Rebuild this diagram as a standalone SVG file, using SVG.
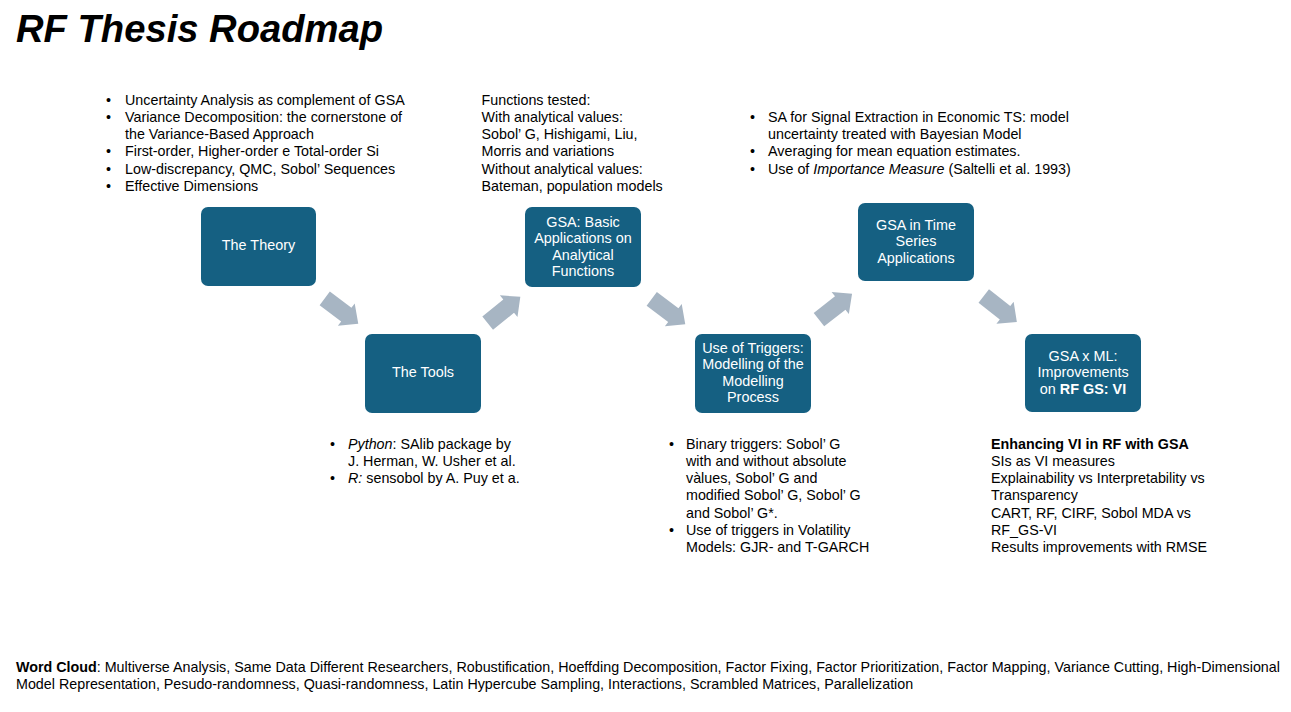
<svg xmlns="http://www.w3.org/2000/svg" width="1291" height="712" viewBox="0 0 1291 712">
<style>
.box{fill:#156082}
.bt{font-family:"Liberation Sans",Arial,sans-serif;font-size:14.4px;fill:#ffffff;text-anchor:middle}
.t{font-family:"Liberation Sans",Arial,sans-serif;font-size:14.3px;fill:#000000}
.title{font-family:"Liberation Sans",Arial,sans-serif;font-size:38.2px;font-weight:bold;font-style:italic;fill:#000000}
.arr{fill:#A7B5C3}
</style>
<defs>
<path id="blk" d="M-21,-8.5 L6,-8.5 L6,-14 L21,0 L6,14 L6,8.5 L-21,8.5 Z"/>
</defs>
<rect width="1291" height="712" fill="#ffffff"/>
<text class="title" x="16" y="42">RF Thesis Roadmap</text>

<g id="connectors">
<use href="#blk" class="arr" transform="translate(341.5,311) rotate(37)"/>
<use href="#blk" class="arr" transform="translate(504,310) rotate(-39)"/>
<use href="#blk" class="arr" transform="translate(668.5,311.5) rotate(37)"/>
<use href="#blk" class="arr" transform="translate(835.5,306.7) rotate(-38)"/>
<use href="#blk" class="arr" transform="translate(1000.3,309) rotate(38)"/>
</g>

<g id="theory">
<rect class="box" x="201" y="207" width="115" height="79" rx="7"/>
<text class="bt" x="258.5" y="250">The Theory</text>
</g>
<g id="tools">
<rect class="box" x="365" y="334" width="116" height="79" rx="7"/>
<text class="bt" x="423" y="377">The Tools</text>
</g>
<g id="gsa-basic">
<rect class="box" x="525" y="207" width="116" height="80" rx="7"/>
<text class="bt" x="583" y="227">GSA: Basic</text>
<text class="bt" x="583" y="243.3">Applications on</text>
<text class="bt" x="583" y="259.6">Analytical</text>
<text class="bt" x="583" y="275.9">Functions</text>
</g>
<g id="triggers">
<rect class="box" x="695" y="334" width="116" height="79" rx="7"/>
<text class="bt" x="753" y="353">Use of Triggers:</text>
<text class="bt" x="753" y="369.3">Modelling of the</text>
<text class="bt" x="753" y="385.6">Modelling</text>
<text class="bt" x="753" y="401.9">Process</text>
</g>
<g id="gsa-ts">
<rect class="box" x="858" y="203" width="116" height="78" rx="7"/>
<text class="bt" x="916" y="230">GSA in Time</text>
<text class="bt" x="916" y="246.3">Series</text>
<text class="bt" x="916" y="262.6">Applications</text>
</g>
<g id="gsa-ml">
<rect class="box" x="1025" y="334" width="116" height="78" rx="7"/>
<text class="bt" x="1083" y="361">GSA x ML:</text>
<text class="bt" x="1083" y="377.3">Improvements</text>
<text class="bt" x="1083" y="393.6">on <tspan font-weight="bold">RF GS: VI</tspan></text>
</g>

<g id="theory-notes" class="t">
<text x="106" y="104.5">•</text><text x="125" y="104.5">Uncertainty Analysis as complement of GSA</text>
<text x="106" y="121.8">•</text><text x="125" y="121.8">Variance Decomposition: the cornerstone of</text>
<text x="125" y="139.1">the Variance-Based Approach</text>
<text x="106" y="156.4">•</text><text x="125" y="156.4">First-order, Higher-order e Total-order Si</text>
<text x="106" y="173.7">•</text><text x="125" y="173.7">Low-discrepancy, QMC, Sobol’ Sequences</text>
<text x="106" y="191">•</text><text x="125" y="191">Effective Dimensions</text>
</g>

<g id="basic-notes" class="t">
<text x="481.5" y="104.5">Functions tested:</text>
<text x="481.5" y="121.8">With analytical values:</text>
<text x="481.5" y="139.1">Sobol’ G, Hishigami, Liu,</text>
<text x="481.5" y="156.4">Morris and variations</text>
<text x="481.5" y="173.7">Without analytical values:</text>
<text x="481.5" y="191">Bateman, population models</text>
</g>

<g id="ts-notes" class="t">
<text x="750" y="121.8">•</text><text x="768" y="121.8">SA for Signal Extraction in Economic TS: model</text>
<text x="768" y="139.1">uncertainty treated with Bayesian Model</text>
<text x="750" y="156.4">•</text><text x="768" y="156.4">Averaging for mean equation estimates.</text>
<text x="750" y="173.7">•</text><text x="768" y="173.7">Use of <tspan font-style="italic">Importance Measure</tspan> (Saltelli et al. 1993)</text>
</g>

<g id="tools-notes" class="t">
<text x="330" y="448.5">•</text><text x="348" y="448.5"><tspan font-style="italic">Python</tspan>: SAlib package by</text>
<text x="348" y="465.8">J. Herman, W. Usher et al.</text>
<text x="330" y="483.1">•</text><text x="348" y="483.1"><tspan font-style="italic">R:</tspan> sensobol by A. Puy et a.</text>
</g>

<g id="trigger-notes" class="t">
<text x="669" y="448.5">•</text><text x="686" y="448.5">Binary triggers: Sobol’ G</text>
<text x="686" y="465.8">with and without absolute</text>
<text x="686" y="483.1">vàlues, Sobol’ G and</text>
<text x="686" y="500.4">modified Sobol’ G, Sobol’ G</text>
<text x="686" y="517.7">and Sobol’ G*.</text>
<text x="669" y="535">•</text><text x="686" y="535">Use of triggers in Volatility</text>
<text x="686" y="552.3">Models: GJR- and T-GARCH</text>
</g>

<g id="ml-notes" class="t">
<text x="991" y="448.5" font-weight="bold">Enhancing VI in RF with GSA</text>
<text x="991" y="465.8">SIs as VI measures</text>
<text x="991" y="483.1">Explainability vs Interpretability vs</text>
<text x="991" y="500.4">Transparency</text>
<text x="991" y="517.7">CART, RF, CIRF, Sobol MDA vs</text>
<text x="991" y="535">RF_GS-VI</text>
<text x="991" y="552.3">Results improvements with RMSE</text>
</g>

<g id="word-cloud" class="t">
<text x="16" y="671.5"><tspan font-weight="bold">Word Cloud</tspan>: Multiverse Analysis, Same Data Different Researchers, Robustification, Hoeffding Decomposition, Factor Fixing, Factor Prioritization, Factor Mapping, Variance Cutting, High-Dimensional</text>
<text x="16" y="689">Model Representation, Pesudo-randomness, Quasi-randomness, Latin Hypercube Sampling, Interactions, Scrambled Matrices, Parallelization</text>
</g>
</svg>
